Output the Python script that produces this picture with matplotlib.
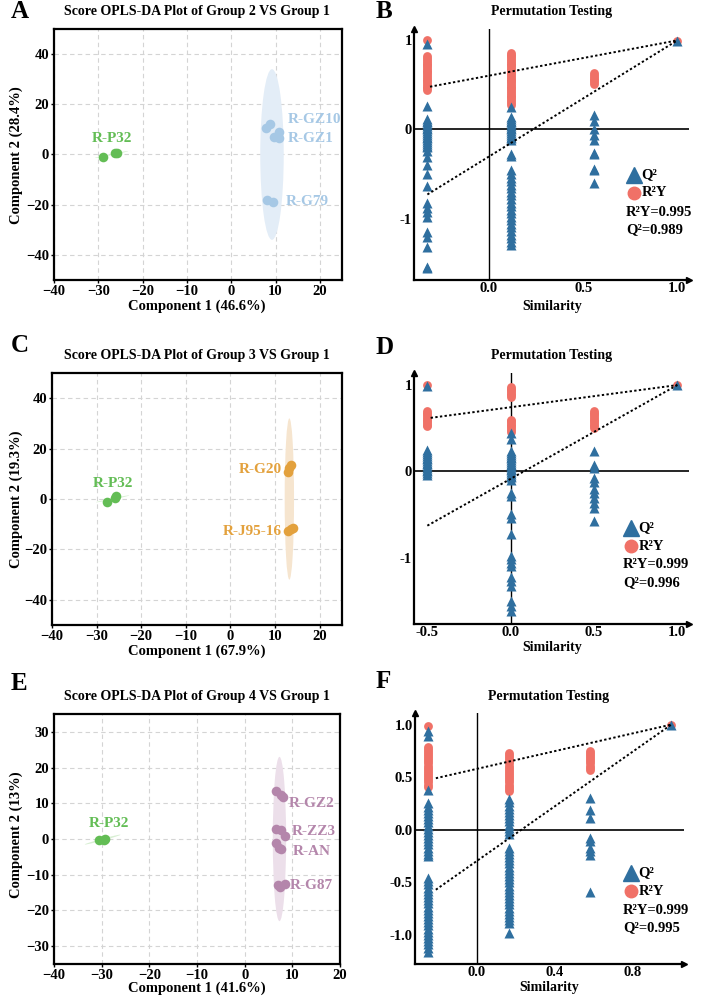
import matplotlib.pyplot as plt
from matplotlib.patches import Ellipse

plt.rcParams['font.family'] = ['Liberation Serif', 'DejaVu Serif']
plt.rcParams['font.weight'] = 'bold'

W, H = 708, 996

# ---------------- score plot data ----------------
p32_color = '#63bd55'
a_p32_x = [-28.9, -26.3, -25.8]
a_p32_y = [-0.9, 0.4, 0.5]
a_grp_x = [7.8, 8.7, 10.7, 9.6, 10.7, 8.0, 9.5]
a_grp_y = [10.6, 12.0, 9.0, 7.0, 6.6, -18.1, -19.0]
a_labels = ['R-GZ10', 'R-GZ1', 'R-G79']

c_p32_x = [-27.6, -25.9, -25.7]
c_p32_y = [-1.3, 0.3, 1.2]
c_grp_x = [12.9, 13.5, 13.1, 12.8, 14.1, 13.5]
c_grp_y = [10.9, 13.5, 12.2, -12.6, -11.6, -12.0]
c_labels = ['R-G20', 'R-J95-16']

e_p32_x = [-30.5, -29.6, -29.3]
e_p32_y = [-0.4, -0.2, 0.1]
e_grp_x = [6.6, 7.6, 8.0, 6.6, 7.6, 8.5, 6.6, 7.3, 7.7, 6.9, 7.4, 8.4]
e_grp_y = [13.4, 12.4, 11.7, 2.9, 2.4, 0.9, -1.1, -2.5, -2.8, -12.8, -13.3, -12.6]
e_labels = ['R-GZ2', 'R-ZZ3', 'R-AN', 'R-G87']

# ---------------- permutation data ----------------
b_xpos = [-0.327, 0.115, 0.557, 1.0]
b_r2y = [[1.0, 0.82, 0.80, 0.78, 0.76, 0.74, 0.72, 0.70, 0.68, 0.66, 0.64, 0.62, 0.60, 0.58,
          0.56, 0.54, 0.52, 0.50, 0.48, 0.46, 0.44],
         [0.86, 0.84, 0.82, 0.80, 0.78, 0.76, 0.74, 0.72, 0.70, 0.68, 0.66, 0.64, 0.62, 0.60,
          0.58, 0.56, 0.54, 0.52, 0.50, 0.48, 0.46, 0.44, 0.42, 0.40, 0.38, 0.36, 0.34, 0.32,
          0.30, 0.28],
         [0.63, 0.61, 0.59, 0.57, 0.55, 0.53, 0.51],
         [0.995]]
b_q2 = [[0.96, 0.26, 0.12, 0.10, 0.08, 0.06, 0.04, 0.02, 0.0, -0.02, -0.04, -0.06, -0.08, -0.10,
         -0.12, -0.14, -0.16, -0.18, -0.20, -0.24, -0.31, -0.40, -0.50, -0.64, -0.83, -0.88,
         -0.93, -0.98, -1.15, -1.21, -1.32, -1.54, -1.56],
        [0.25, 0.14, 0.12, 0.10, 0.08, 0.06, 0.04, 0.02, 0.0, -0.02, -0.04, -0.06, -0.08, -0.10,
         -0.12, -0.27, -0.30, -0.46, -0.50, -0.54, -0.58, -0.62, -0.66, -0.70, -0.74, -0.78,
         -0.82, -0.86, -0.90, -0.94, -0.98, -1.02, -1.06, -1.10, -1.14, -1.18, -1.22, -1.26,
         -1.30],
        [0.16, 0.10, 0.01, -0.06, -0.12, -0.26, -0.28, -0.44, -0.46, -0.60],
        [0.989]]
b_r2y_fit = [(-0.313, 0.48), (1.0, 1.0)]
b_q2_fit = [(-0.327, -0.73), (1.0, 1.0)]

d_xpos = [-0.5, 0.0, 0.5, 1.0]
d_r2y = [[1.0, 0.70, 0.68, 0.66, 0.64, 0.62, 0.60, 0.58, 0.56, 0.54, 0.52],
         [0.98, 0.96, 0.94, 0.92, 0.90, 0.88, 0.86, 0.60, 0.58, 0.56, 0.54, 0.52, 0.50, 0.48,
          0.46],
         [0.70, 0.68, 0.66, 0.64, 0.62, 0.60, 0.58, 0.56, 0.54, 0.52, 0.50],
         [0.999]]
d_q2 = [[0.99, 0.25, 0.22, 0.20, 0.18, 0.16, 0.14, 0.12, 0.10, 0.08, 0.06, 0.04, 0.02, 0.0,
         -0.02, -0.04],
        [0.44, 0.37, 0.23, 0.21, 0.19, 0.17, 0.15, 0.13, 0.11, 0.09, 0.07, 0.05, 0.03, 0.01,
         -0.01, -0.03, -0.05, -0.07, -0.10, -0.25, -0.29, -0.50, -0.54, -0.73, -0.98, -1.02,
         -1.06, -1.10, -1.22, -1.27, -1.33, -1.50, -1.56, -1.62],
        [0.23, 0.07, 0.04, -0.08, -0.12, -0.21, -0.25, -0.31, -0.37, -0.42, -0.58],
        [0.996]]
d_r2y_fit = [(-0.48, 0.62), (1.0, 1.0)]
d_q2_fit = [(-0.5, -0.63), (1.0, 1.0)]

f_xpos = [-0.25, 0.166, 0.582, 1.0]
f_r2y = [[0.99, 0.79, 0.77, 0.75, 0.73, 0.71, 0.69, 0.67, 0.65, 0.63, 0.61, 0.59, 0.57, 0.55,
          0.53, 0.51, 0.49, 0.47, 0.45, 0.43, 0.41],
         [0.73, 0.71, 0.69, 0.67, 0.65, 0.63, 0.61, 0.59, 0.57, 0.55, 0.53, 0.51, 0.49, 0.47,
          0.45, 0.43, 0.41, 0.39, 0.37],
         [0.75, 0.73, 0.71, 0.69, 0.67, 0.65, 0.63, 0.61, 0.59, 0.57],
         [0.999]]
f_q2 = [[0.94, 0.89, 0.38, 0.25, 0.22, 0.19, 0.16, 0.13, 0.10, 0.07, 0.04, 0.01, -0.02, -0.05,
         -0.08, -0.11, -0.14, -0.17, -0.20, -0.23, -0.25, -0.46, -0.49, -0.52, -0.55, -0.58,
         -0.61, -0.64, -0.67, -0.70, -0.73, -0.76, -0.79, -0.82, -0.85, -0.88, -0.91, -0.94,
         -0.97, -1.00, -1.03, -1.06, -1.09, -1.12, -1.16],
        [0.29, 0.26, 0.23, 0.20, 0.17, 0.14, 0.11, 0.08, 0.05, 0.02, -0.01, -0.04, -0.17, -0.20,
         -0.23, -0.26, -0.29, -0.32, -0.35, -0.38, -0.41, -0.44, -0.47, -0.50, -0.53, -0.56,
         -0.59, -0.62, -0.65, -0.68, -0.71, -0.74, -0.77, -0.80, -0.83, -0.86, -0.89, -0.98],
        [0.30, 0.19, 0.11, -0.08, -0.11, -0.17, -0.20, -0.24, -0.59],
        [0.995]]
f_r2y_fit = [(-0.21, 0.49), (1.0, 1.0)]
f_q2_fit = [(-0.21, -0.57), (1.0, 1.0)]

Q2_COLOR = '#2f6f9f'
R2_COLOR = '#f07167'

fig = plt.figure(figsize=(W / 100, H / 100), dpi=100)


def add_ax(l, t, r, b):
    return fig.add_axes([l / W, 1 - b / H, (r - l) / W, (b - t) / H])


def ftext(x, y, s, **kw):
    fig.text(x / W, 1 - y / H, s, fontweight='bold', **kw)


def score_panel(box, xlim, ylim, yticks, p32, grp, color, ell, labels):
    ax = add_ax(*box)
    ax.set_xlim(*xlim)
    ax.set_ylim(*ylim)
    ax.set_xticks([-40, -30, -20, -10, 0, 10, 20])
    ax.set_yticks(yticks)
    ax.grid(True, ls=(0, (4, 3)), color='#d4d4d4', lw=0.8)
    ax.set_axisbelow(True)
    for s in ax.spines.values():
        s.set_linewidth(1.6)
    ax.tick_params(length=2.5, width=1, labelsize=10.5, pad=1)
    for lab in ax.get_xticklabels() + ax.get_yticklabels():
        lab.set_fontweight('bold')
    # confidence ellipses
    ex, ey, ew, eh, ec = ell
    ax.add_patch(Ellipse((ex, ey), ew, eh, color=ec, lw=0, zorder=1))
    px, py = p32
    ax.add_patch(Ellipse((sum(px) / 3, sum(py) / 3), 8, 0.5, angle=20, color='#d8efd3',
                         lw=0, zorder=1))
    ax.scatter(px, py, s=48, color=p32_color, zorder=3, lw=0)
    ax.scatter(grp[0], grp[1], s=48, color=color, zorder=3, lw=0)
    for (lx, ly, txt, ha) in labels:
        ax.text(lx, ly, txt, color=color if txt != 'R-P32' else p32_color,
                fontsize=11, fontweight='bold', ha=ha, va='center')
    return ax


def perm_panel(box, xlim, ylim, xpos, r2y, q2, r2fit, q2fit, xticks, xtl, yticks, ytl):
    ax = add_ax(*box)
    ax.set_xlim(*xlim)
    ax.set_ylim(*ylim)
    for s in ['top', 'right']:
        ax.spines[s].set_visible(False)
    for s in ['left', 'bottom']:
        ax.spines[s].set_linewidth(1.6)
    ax.plot(0, 1, '^k', ms=5, transform=ax.transAxes, clip_on=False)
    ax.plot(1, 0, '>k', ms=5, transform=ax.transAxes, clip_on=False)
    ax.axhline(0, color='k', lw=1.2, zorder=1)
    ax.axvline(0, color='k', lw=1.0, zorder=1)
    for x, vals in zip(xpos, r2y):
        ax.scatter([x] * len(vals), vals, s=40, marker='o', color=R2_COLOR, lw=0, zorder=2)
    for x, vals in zip(xpos, q2):
        ax.scatter([x] * len(vals), vals, s=52, marker='^', color=Q2_COLOR, lw=0, zorder=3)
    for fit in (r2fit, q2fit):
        ax.plot([fit[0][0], fit[1][0]], [fit[0][1], fit[1][1]], color='k', lw=1.4,
                ls=(0, (1.2, 1.2)), zorder=4)
    ax.set_xticks(xticks)
    ax.set_xticklabels(xtl)
    ax.set_yticks(yticks)
    ax.set_yticklabels(ytl)
    ax.tick_params(length=0, labelsize=10.5, pad=1.5)
    for lab in ax.get_xticklabels() + ax.get_yticklabels():
        lab.set_fontweight('bold')
    return ax


def perm_legend(tx, ty, r2_val, q2_val):
    fig.add_artist(plt.Line2D([tx / W], [1 - ty / H], marker='^', ms=11, color=Q2_COLOR,
                              lw=0, transform=fig.transFigure))
    fig.add_artist(plt.Line2D([tx / W], [1 - (ty + 18) / H], marker='o', ms=9,
                              color=R2_COLOR, lw=0, transform=fig.transFigure))
    ftext(tx + 7, ty, 'Q²', fontsize=10.5, va='center')
    ftext(tx + 8, ty + 18, 'R²Y', fontsize=10.5, va='center')
    ftext(tx - 8, ty + 37, 'R²Y=' + r2_val, fontsize=10.5, va='center')
    ftext(tx - 8, ty + 55, 'Q²=' + q2_val, fontsize=10.5, va='center')


# ---------------- panel A ----------------
score_panel((54, 29, 342, 280), (-40, 25), (-50, 50), [-40, -20, 0, 20, 40],
            (a_p32_x, a_p32_y), (a_grp_x, a_grp_y), '#a6c8e5',
            (9.2, 0, 5.3, 68, '#e3edf7'),
            [(-27, 6.4, 'R-P32', 'center'), (12.7, 13.9, a_labels[0], 'left'),
             (12.7, 6.4, a_labels[1], 'left'), (12.2, -18.8, a_labels[2], 'left')])
ftext(197, 12, 'Score OPLS-DA Plot of Group 2 VS Group 1', fontsize=10, ha='center',
      va='center')
ftext(197, 306, 'Component 1 (46.6%)', fontsize=10.5, ha='center', va='center')
ftext(16, 155, 'Component 2 (28.4%)', fontsize=10.5, ha='center', va='center', rotation=90)
ftext(11, 12, 'A', fontsize=18, va='center')

# ---------------- panel B ----------------
perm_panel((414, 29, 689, 280), (-0.398, 1.062), (-1.69, 1.128), b_xpos, b_r2y, b_q2,
           b_r2y_fit, b_q2_fit, [0.0, 0.5, 1.0], ['0.0', '0.5', '1.0'], [-1, 0, 1],
           ['-1', '0', '1'])
perm_legend(634, 175, '0.995', '0.989')
ftext(552, 12, 'Permutation Testing', fontsize=10, ha='center', va='center')
ftext(552, 306, 'Similarity', fontsize=10, ha='center', va='center')
ftext(376, 12, 'B', fontsize=18, va='center')

# ---------------- panel C ----------------
score_panel((52, 373, 342, 625), (-40, 25), (-50, 50), [-40, -20, 0, 20, 40],
            (c_p32_x, c_p32_y), (c_grp_x, c_grp_y), '#e3a13d',
            (13.2, 0, 2.1, 64, '#f6e5cf'),
            [(-26.4, 6.2, 'R-P32', 'center'), (11.6, 11.8, c_labels[0], 'right'),
             (11.6, -13.0, c_labels[1], 'right')])
ftext(197, 355, 'Score OPLS-DA Plot of Group 3 VS Group 1', fontsize=10, ha='center',
      va='center')
ftext(197, 651, 'Component 1 (67.9%)', fontsize=10.5, ha='center', va='center')
ftext(16, 499, 'Component 2 (19.3%)', fontsize=10.5, ha='center', va='center', rotation=90)
ftext(11, 346, 'C', fontsize=18, va='center')

# ---------------- panel D ----------------
perm_panel((414, 373, 689, 624), (-0.58, 1.07), (-1.77, 1.14), d_xpos, d_r2y, d_q2,
           d_r2y_fit, d_q2_fit, [-0.5, 0.0, 0.5, 1.0], ['-0.5', '0.0', '0.5', '1.0'],
           [-1, 0, 1], ['-1', '0', '1'])
perm_legend(631, 528, '0.999', '0.996')
ftext(552, 355, 'Permutation Testing', fontsize=10, ha='center', va='center')
ftext(552, 647, 'Similarity', fontsize=10, ha='center', va='center')
ftext(376, 347, 'D', fontsize=18, va='center')

# ---------------- panel E ----------------
score_panel((54, 714, 340, 964), (-40, 20), (-35, 35), [-30, -20, -10, 0, 10, 20, 30],
            (e_p32_x, e_p32_y), (e_grp_x, e_grp_y), '#b486ab',
            (7.3, 0, 2.8, 46, '#ecdfea'),
            [(-28.4, 4.3, 'R-P32', 'center'), (9.2, 9.9, e_labels[0], 'left'),
             (9.8, 2.1, e_labels[1], 'left'), (10.0, -3.5, e_labels[2], 'left'),
             (9.4, -13.1, e_labels[3], 'left')])
ftext(197, 696, 'Score OPLS-DA Plot of Group 4 VS Group 1', fontsize=10, ha='center',
      va='center')
ftext(197, 988, 'Component 1 (41.6%)', fontsize=10.5, ha='center', va='center')
ftext(16, 835, 'Component 2 (13%)', fontsize=10.5, ha='center', va='center', rotation=90)
ftext(11, 683, 'E', fontsize=18, va='center')

# ---------------- panel F ----------------
perm_panel((415, 713, 684, 964), (-0.317, 1.065), (-1.276, 1.11), f_xpos, f_r2y, f_q2,
           f_r2y_fit, f_q2_fit, [0.0, 0.4, 0.8], ['0.0', '0.4', '0.8'],
           [-1.0, -0.5, 0.0, 0.5, 1.0], ['-1.0', '-0.5', '0.0', '0.5', '1.0'])
perm_legend(631, 873, '0.999', '0.995')
ftext(549, 696, 'Permutation Testing', fontsize=10, ha='center', va='center')
ftext(549, 987, 'Similarity', fontsize=10, ha='center', va='center')
ftext(376, 682, 'F', fontsize=18, va='center')

fig.savefig('out.png', dpi=100)
